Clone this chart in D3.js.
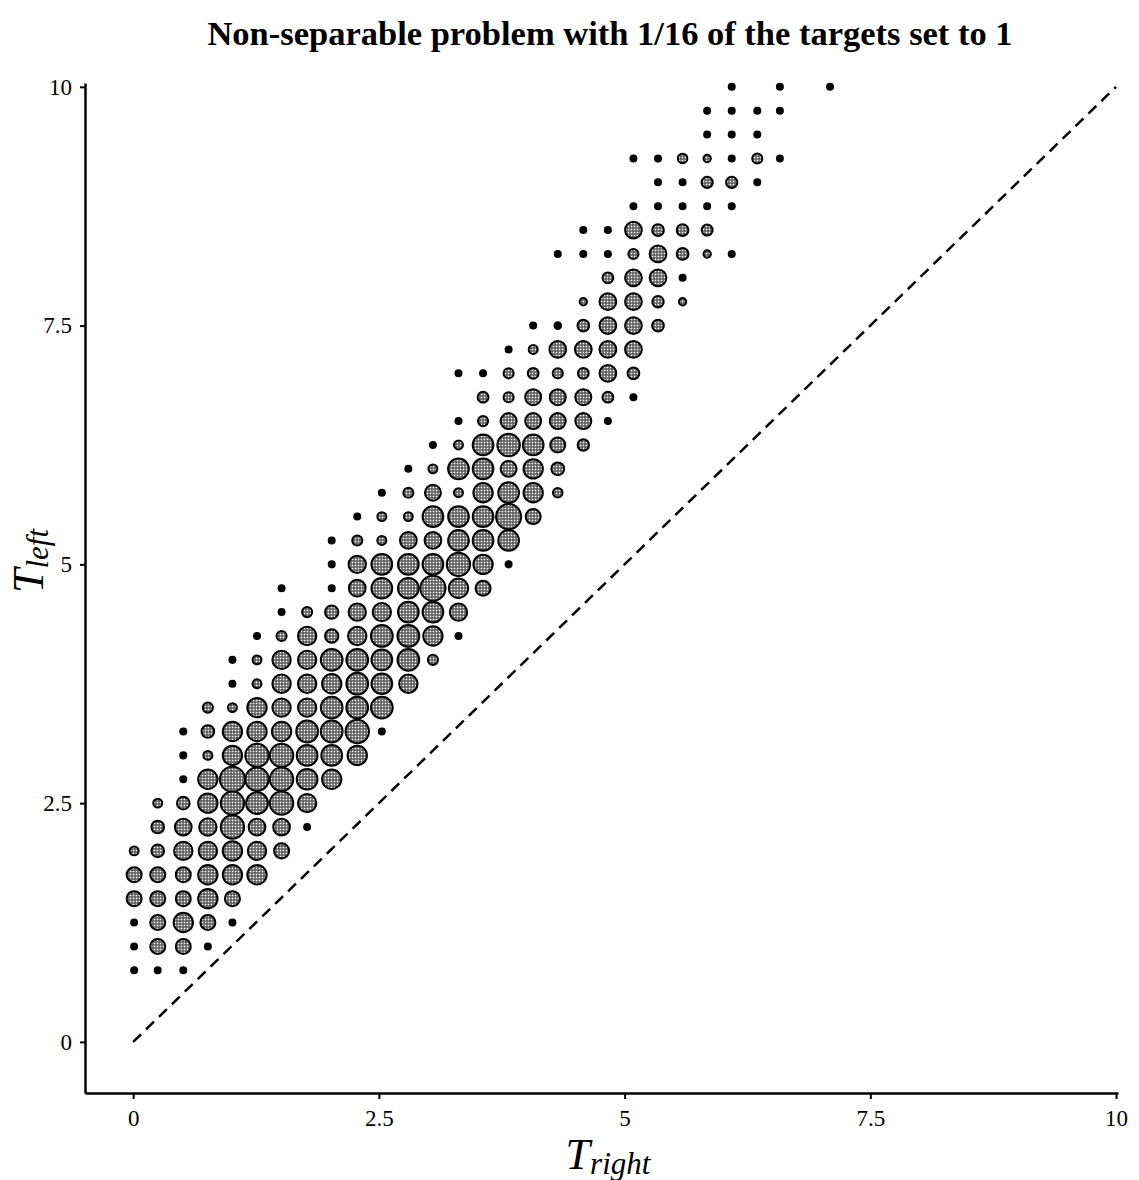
<!DOCTYPE html>
<html>
<head>
<meta charset="utf-8">
<script src="https://cdn.jsdelivr.net/npm/d3@7"></script>
<style>
  body { margin: 0; background: #fff; }
  text { font-family: "Liberation Serif", "Times New Roman", serif; fill: #000; }
</style>
</head>
<body>
<div class="chart-container"></div>
<script>
//! DATA
const TITLE = 'Non-separable problem with 1/16 of the targets set to 1'
const xTicks = [0, 2.5, 5, 7.5, 10]
const yTicks = [0, 2.5, 5, 7.5, 10]

// T_right value of each grid column
const tRightCols = [0.01, 0.25, 0.51, 0.76, 1.01, 1.26, 1.51, 1.77, 2.02, 2.28,
  2.53, 2.80, 3.05, 3.31, 3.56, 3.82, 4.07, 4.32, 4.58, 4.83,
  5.09, 5.34, 5.59, 5.84, 6.09, 6.35, 6.58, 6.83, 7.09]

// T_left value of each row (top to bottom)
const tLeftRows = [10, 9.75, 9.5, 9.25, 9, 8.75, 8.5, 8.25, 8, 7.75,
  7.5, 7.25, 7, 6.75, 6.5, 6.25, 6, 5.75, 5.5, 5.25,
  5, 4.75, 4.5, 4.25, 4, 3.75, 3.5, 3.25, 3, 2.75,
  2.5, 2.25, 2, 1.75, 1.5, 1.25, 1, 0.75]

// first column index used in each row
const firstCol = [24, 23, 23, 20, 21, 20, 18, 17, 19, 18,
  16, 15, 13, 14, 13, 12, 11, 10, 9, 8,
  8, 6, 6, 5, 4, 4, 3, 2, 2, 2,
  1, 1, 0, 0, 0, 0, 0, 0]

// counts per row starting at firstCol (0 = no point)
const counts = [
  [1, 0, 1, 0, 1],
  [1, 1, 1, 1],
  [1, 1, 1],
  [1, 1, 2.5, 1.5, 1, 2.8, 1],
  [1, 1, 3.5, 3.5, 1],
  [1, 1, 1, 1, 1],
  [1, 1, 7.7, 3.8, 3.8, 3.3],
  [1, 1, 1, 2.8, 7.7, 3.8, 1.5, 1],
  [3.2, 7.7, 7.7, 1],
  [1.5, 7.7, 7.7, 3.6, 1.5],
  [1, 1.2, 3.8, 7.7, 7.7, 3.8],
  [1, 2.2, 7.7, 7.7, 7.7, 7.7],
  [1, 1, 2.8, 3.2, 2.8, 3.2, 7.7, 3.8],
  [3.2, 2.8, 7, 7, 7, 3.2, 1],
  [1, 2.8, 7, 7, 7, 7, 1],
  [1, 2.2, 11.8, 14, 11.8, 6.2, 3.6],
  [1, 2.2, 11.8, 11.8, 7, 10.3, 4.5],
  [1, 2.8, 7, 2.2, 10.3, 11.8, 10.3, 2.5],
  [1, 2.2, 2.2, 11.8, 11.8, 11.8, 17.4, 6.2],
  [1, 2.8, 2.2, 7.7, 7.7, 11.8, 11.8, 11.8],
  [1, 8.3, 11.8, 11.8, 11.8, 15, 10.3, 1],
  [1, 0, 1, 7.7, 11.8, 11.8, 17.4, 10.3, 6.2],
  [1, 2.8, 4.9, 8.3, 9.3, 11.8, 11.8, 8.3],
  [1, 2.8, 9.3, 4.9, 9.3, 13, 13, 10.3, 1],
  [1, 2.2, 9.3, 9.3, 13, 13, 11.8, 13, 2.8],
  [1, 2.2, 9.3, 9.3, 10.3, 13, 11.8, 9.3],
  [2.8, 2.2, 10.3, 9.3, 9.3, 13, 13, 13],
  [1, 4.4, 10.3, 10.3, 10.3, 13, 13, 15, 1],
  [1, 2.2, 10.3, 15, 15, 11.8, 11.8, 10.3],
  [1, 10.3, 17.4, 15, 15, 11.8, 10.3],
  [2.2, 4.4, 10.3, 15, 13, 15, 9.3],
  [4.4, 7.7, 8.3, 15, 7.7, 7.7, 1],
  [2.2, 4.4, 9.3, 9.3, 10.3, 9.3, 6.2],
  [6.2, 6.2, 6.2, 10.3, 10.3, 10.3],
  [6.2, 6.2, 6.2, 10.3, 6.2],
  [1, 6.2, 10.3, 6.2, 1],
  [1, 6.2, 6.2, 1],
  [1, 1, 1]
]

// reference line T_left = T_right
const diagonal = [[0, 0], [10, 10]]

//! CONSTS
const WIDTH = 1139
const HEIGHT = 1180

//! SVG
const svg =
  d3.select('.chart-container')
    .append('svg')
    .attr('width', WIDTH)
    .attr('height', HEIGHT)

const defs = svg.append('defs')
const pat = defs.append('pattern')
  .attr('id', 'halftone')
  .attr('width', 3)
  .attr('height', 3)
  .attr('patternUnits', 'userSpaceOnUse')
pat.append('rect').attr('width', 3).attr('height', 3).attr('fill', '#555')
pat.append('rect').attr('width', 1.6).attr('height', 1.6).attr('x', 0.7).attr('y', 0.7).attr('fill', '#fff')

//! SCALES
const xScale =
  d3.scaleLinear()
    .domain([-0.49, 10.02])
    .range([85, 1118])

const yScale =
  d3.scaleLinear()
    .domain([-0.535, 10.04])
    .range([1093, 83])

const rScale =
  d3.scaleSqrt()
    .domain([0, 18])
    .range([0, 12.8])

//! POINTS
const points = []
tLeftRows.forEach((tl, r) => {
  counts[r].forEach((c, k) => {
    if (c > 0) points.push({ x: tRightCols[firstCol[r] + k], y: tl, c: c })
  })
})

//! AXES
const xAxis =
  d3.axisBottom(xScale)
    .tickValues(xTicks)
    .tickSize(6)
    .tickSizeOuter(0)
    .tickPadding(11)
    .tickFormat(d => d)

const yAxis =
  d3.axisLeft(yScale)
    .tickValues(yTicks)
    .tickSize(5)
    .tickSizeOuter(0)
    .tickPadding(8)
    .tickFormat(d => d)

const gx = svg.append('g')
  .attr('transform', `translate(0,${yScale.range()[0]})`)
  .call(xAxis)

const gy = svg.append('g')
  .attr('transform', `translate(${xScale.range()[0]},0)`)
  .call(yAxis)

svg.selectAll('.domain')
  .attr('stroke', '#000')
  .attr('stroke-width', 2.5)
svg.selectAll('.tick line')
  .attr('stroke', '#000')
  .attr('stroke-width', 2)
svg.selectAll('.tick text')
  .attr('font-size', 23)
  .attr('font-family', '"Liberation Serif", serif')

//! DIAGONAL
svg.append('path')
  .datum(diagonal)
  .attr('d', d3.line().x(d => xScale(d[0])).y(d => yScale(d[1])))
  .attr('fill', 'none')
  .attr('stroke', '#000')
  .attr('stroke-width', 2.5)
  .attr('stroke-dasharray', '11,7')

//! DOTS
svg.append('g')
  .selectAll('circle')
  .data(points)
  .enter()
  .append('circle')
  .attr('cx', d => xScale(d.x))
  .attr('cy', d => yScale(d.y))
  .attr('r', d => rScale(d.c))
  .attr('fill', d => d.c <= 1.2 ? '#000' : 'url(#halftone)')
  .attr('stroke', '#000')
  .attr('stroke-width', 2)

//! TEXT
svg.append('text')
  .attr('x', 610)
  .attr('y', 45)
  .attr('text-anchor', 'middle')
  .attr('font-size', 34.5)
  .attr('font-weight', 'bold')
  .text(TITLE)

const xLabel = svg.append('text')
  .attr('x', 608)
  .attr('y', 1169)
  .attr('text-anchor', 'middle')
  .attr('font-style', 'italic')
  .attr('font-size', 44)
xLabel.append('tspan').text('T')
xLabel.append('tspan').attr('dy', 5).attr('font-size', 31).text('right')

const yLabel = svg.append('text')
  .attr('transform', 'translate(43,561) rotate(-90)')
  .attr('text-anchor', 'middle')
  .attr('font-style', 'italic')
  .attr('font-size', 44)
yLabel.append('tspan').text('T')
yLabel.append('tspan').attr('dy', 5).attr('font-size', 31).text('left')
</script>
</body>
</html>
